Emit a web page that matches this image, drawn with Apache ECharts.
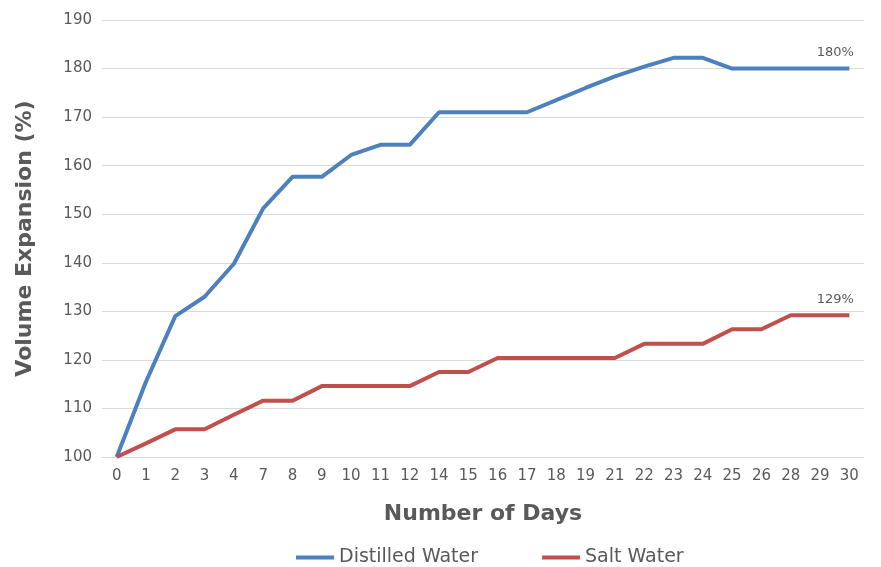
<!DOCTYPE html>
<html>
<head>
<meta charset="utf-8">
<script src="https://cdn.jsdelivr.net/npm/echarts@6/dist/echarts.min.js"></script>
<style>
  html, body { margin: 0; padding: 0; background: #fff; }
  #main { width: 881px; height: 567px; }
</style>
</head>
<body>
<div id="main"></div>
<script>
// days measured
var days = ['0', '1', '2', '3', '4', '7', '8', '9', '10', '11', '12', '14', '15', '16', '17',
  '18', '19', '21', '22', '23', '24', '25', '26', '28', '29', '30'];
// volume expansion (%)
var distilled = [100, 115.5, 129, 133, 139.8, 151.2, 157.7, 157.7, 162.2, 164.3, 164.3, 171, 171, 171, 171,
  173.5, 176, 178.4, 180.4, 182.2, 182.2, 180, 180, 180, 180, 180];
var salt = [100, 102.8, 105.7, 105.7, 108.7, 111.6, 111.6, 114.6, 114.6, 114.6, 114.6, 117.5, 117.5, 120.4, 120.4,
  120.4, 120.4, 120.4, 123.3, 123.3, 123.3, 126.3, 126.3, 129.2, 129.2, 129.2];
var yTicks = { min: 100, max: 190, step: 10 };

var chart = echarts.init(document.getElementById('main'));
var font = "'DejaVu Sans', sans-serif";
var grey = '#595959';

function endLabel(data) {
  // only label the last point
  return {
    show: true,
    position: 'top',
    distance: 9,
    offset: [-14, 0],
    color: grey,
    fontFamily: font,
    fontSize: 13,
    formatter: function (p) {
      return p.dataIndex === data.length - 1 ? Math.round(p.value) + '%' : '';
    }
  };
}

var option = {
  animation: false,
  textStyle: { fontFamily: font },
  color: ['#4e80bd', '#c0504d'],
  grid: {
    left: 102,
    right: 17,
    top: 20,
    bottom: 110
  },
  legend: {
    bottom: -5,
    left: 291,
    itemWidth: 38,
    itemHeight: 4,
    itemGap: 64,
    icon: 'rect',
    textStyle: { color: grey, fontSize: 19, fontFamily: font },
    data: ['Distilled Water', 'Salt Water']
  },
  xAxis: {
    type: 'category',
    data: days,
    boundaryGap: true,
    name: 'Number of Days',
    nameLocation: 'middle',
    nameGap: 46,
    nameTextStyle: { color: grey, fontSize: 22, fontWeight: 'bold', fontFamily: font },
    axisLine: { lineStyle: { color: '#d9d9d9', width: 1 } },
    axisTick: { show: false },
    axisLabel: { color: grey, fontSize: 15, margin: 12, interval: 0 }
  },
  yAxis: {
    type: 'value',
    min: yTicks.min,
    max: yTicks.max,
    interval: yTicks.step,
    name: 'Volume Expansion (%)',
    nameLocation: 'middle',
    nameGap: 66,
    nameTextStyle: { color: grey, fontSize: 22, fontWeight: 'bold', fontFamily: font },
    axisLine: { show: false },
    axisTick: { show: false },
    axisLabel: { color: grey, fontSize: 15, margin: 10 },
    splitLine: { lineStyle: { color: '#d9d9d9', width: 1 } }
  },
  series: [
    {
      name: 'Distilled Water',
      type: 'line',
      data: distilled,
      symbol: 'circle',
      symbolSize: 0,
      showSymbol: true,
      lineStyle: { width: 4 },
      label: endLabel(distilled)
    },
    {
      name: 'Salt Water',
      type: 'line',
      data: salt,
      symbol: 'circle',
      symbolSize: 0,
      showSymbol: true,
      lineStyle: { width: 4 },
      label: endLabel(salt)
    }
  ]
};

chart.setOption(option);
</script>
</body>
</html>
